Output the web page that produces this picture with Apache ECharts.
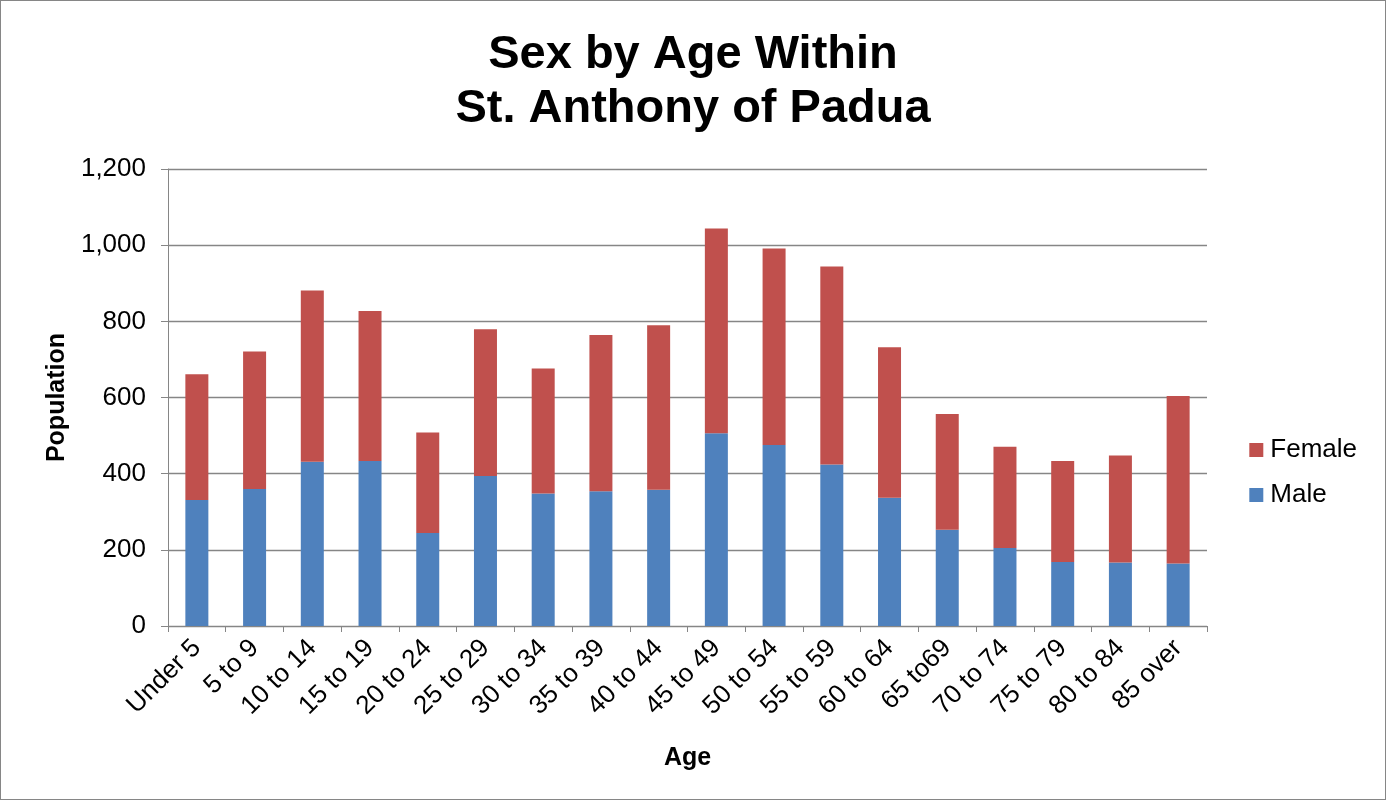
<!DOCTYPE html>
<html>
<head>
<meta charset="utf-8">
<script src="https://cdn.jsdelivr.net/npm/echarts@6/dist/echarts.min.js"></script>
<style>
html,body{margin:0;padding:0;background:#fff;}
#c{width:1386px;height:800px;box-sizing:border-box;border:1px solid #868686;}
</style>
</head>
<body>
<div id="c"></div>
<script>
const categories = ["Under 5","5 to 9","10 to 14","15 to 19","20 to 24","25 to 29","30 to 34","35 to 39","40 to 44","45 to 49","50 to 54","55 to 59","60 to 64","65 to69","70 to 74","75 to 79","80 to 84","85 over"];
const male   = [331,360,431,433,244,394,348,354,358,506,475,424,337,253,205,168,167,164];
const female = [330,361,450,394,264,385,328,410,432,538,516,520,395,304,266,265,281,440];
const yTicks = {min:0, max:1200, interval:200};

const chart = echarts.init(document.getElementById('c'));
const FONT = '"Liberation Sans", Arial, sans-serif';
chart.setOption({
  animation:false,
  textStyle:{fontFamily:FONT},
  title:{
    text:'Sex by Age Within\nSt. Anthony of Padua',
    left:'center', top:22,
    textStyle:{fontFamily:FONT,fontSize:47,fontWeight:'bold',color:'#000',lineHeight:54}
  },
  legend:{
    orient:'vertical', right:23, top:431,
    data:['Female','Male'],
    itemWidth:14, itemHeight:14, itemGap:19, icon:'rect',
    textStyle:{fontFamily:FONT,fontSize:26,color:'#000',padding:[0,0,0,2]}
  },
  grid:{left:167,right:178,top:168,bottom:173,containLabel:false},
  xAxis:{
    type:'category', data:categories,
    name:'Age', nameLocation:'middle', nameGap:120,
    nameTextStyle:{fontFamily:FONT,fontSize:25,fontWeight:'bold',color:'#000'},
    axisLine:{lineStyle:{color:'#868686',width:1}},
    axisTick:{show:true,interval:0,length:6,lineStyle:{color:'#868686'}},
    axisLabel:{interval:0,rotate:45,fontFamily:FONT,fontSize:26,color:'#000',margin:18}
  },
  yAxis:{
    type:'value', min:yTicks.min, max:yTicks.max, interval:yTicks.interval,
    name:'Population', nameLocation:'middle', nameGap:98, nameRotate:90,
    nameTextStyle:{fontFamily:FONT,fontSize:25,fontWeight:'bold',color:'#000'},
    axisLine:{show:true,lineStyle:{color:'#868686',width:1}},
    axisTick:{show:true,length:7,lineStyle:{color:'#868686'}},
    splitLine:{lineStyle:{color:'#868686',width:1.3}},
    axisLabel:{fontFamily:FONT,fontSize:26,color:'#000',margin:22,
      formatter:v=>v.toLocaleString('en-US')}
  },
  series:[
    {name:'Male',type:'bar',stack:'t',data:male,barWidth:23,itemStyle:{color:'#4F81BD'}},
    {name:'Female',type:'bar',stack:'t',data:female,barWidth:23,itemStyle:{color:'#C0504D'}}
  ]
});
</script>
</body>
</html>
